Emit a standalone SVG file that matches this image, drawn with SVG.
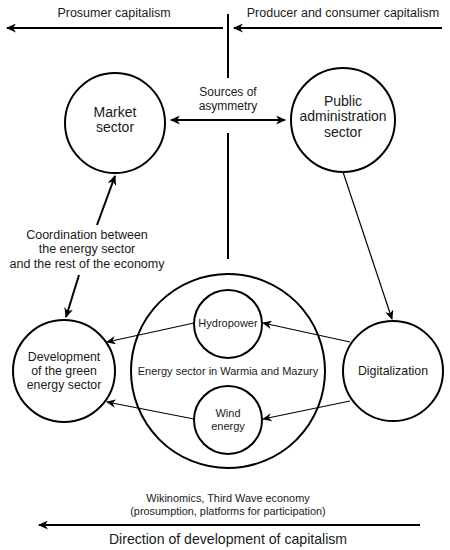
<svg xmlns="http://www.w3.org/2000/svg" width="450" height="550" viewBox="0 0 450 550">
<defs>
<marker id="ah" viewBox="0 0 10 10" refX="9" refY="5" markerWidth="5" markerHeight="4.5" orient="auto-start-reverse" markerUnits="strokeWidth" preserveAspectRatio="none">
<path d="M0,0 L10,5 L0,10 L3,5 Z" fill="#000"/>
</marker>
<marker id="ahs" viewBox="0 0 10 10" refX="9" refY="5" markerWidth="8" markerHeight="7" orient="auto-start-reverse" markerUnits="strokeWidth" preserveAspectRatio="none">
<path d="M0,0 L10,5 L0,10 L3,5 Z" fill="#000"/>
</marker>
</defs>
<style>
text{font-family:"Liberation Sans",Arial,sans-serif;fill:#1a1a1a;text-anchor:middle}
.c{fill:#fff;stroke:#000;stroke-width:2}
.thick{stroke:#000;stroke-width:2;fill:none}
.thin{stroke:#000;stroke-width:1.2;fill:none}
</style>
<rect width="450" height="550" fill="#fff"/>
<g id="connectors">
<line class="thick" x1="223" y1="28" x2="7" y2="28" marker-end="url(#ah)"/>
<line class="thick" x1="442" y1="28" x2="234" y2="28" marker-end="url(#ah)"/>
<line class="thick" x1="228" y1="14" x2="228" y2="78"/>
<line class="thick" x1="228" y1="133" x2="228" y2="259"/>
<line class="thick" x1="171" y1="120" x2="285" y2="120" marker-start="url(#ah)" marker-end="url(#ah)"/>
<line class="thick" x1="97" y1="225" x2="115" y2="176" marker-end="url(#ah)"/>
<line class="thick" x1="79" y1="275" x2="66" y2="317" marker-end="url(#ah)"/>
<line class="thin" x1="343" y1="172" x2="392" y2="319" marker-end="url(#ahs)"/>
<line class="thin" x1="194" y1="323" x2="107" y2="342" marker-end="url(#ahs)"/>
<line class="thin" x1="350" y1="342" x2="263" y2="323" marker-end="url(#ahs)"/>
<line class="thin" x1="194" y1="419" x2="107" y2="402" marker-end="url(#ahs)"/>
<line class="thin" x1="350" y1="401" x2="263" y2="419" marker-end="url(#ahs)"/>
<line class="thick" x1="420" y1="525" x2="39" y2="525" marker-end="url(#ah)"/>
</g>
<g id="labels">
<text x="114" y="17" font-size="12.5">Prosumer capitalism</text>
<text x="343" y="17" font-size="12.5">Producer and consumer capitalism</text>
<text x="228" y="96" font-size="12">Sources of</text>
<text x="228" y="110" font-size="12">asymmetry</text>
<text x="87" y="239" font-size="12.5">Coordination between</text>
<text x="87" y="253" font-size="12.5">the energy sector</text>
<text x="87" y="268" font-size="12.5">and the rest of the economy</text>
<text x="228" y="502" font-size="10.9">Wikinomics, Third Wave economy</text>
<text x="228" y="515" font-size="10.9">(prosumption, platforms for participation)</text>
<text x="228" y="544" font-size="14.1">Direction of development of capitalism</text>
</g>
<g id="market">
<circle class="c" cx="115" cy="123" r="50"/>
<text x="115" y="117" font-size="14">Market</text>
<text x="115" y="132" font-size="14">sector</text>
</g>
<g id="public">
<circle class="c" cx="343" cy="120" r="52"/>
<text x="343" y="106" font-size="14">Public</text>
<text x="343" y="121" font-size="14">administration</text>
<text x="343" y="137" font-size="14">sector</text>
</g>
<g id="energy-sector">
<circle class="c" cx="228" cy="371" r="97" style="fill:none"/>
<text x="228" y="375" font-size="11">Energy sector in Warmia and Mazury</text>
</g>
<g id="hydropower">
<circle class="c" cx="228" cy="324" r="34"/>
<text x="228" y="327" font-size="11">Hydropower</text>
</g>
<g id="wind">
<circle class="c" cx="228" cy="420" r="34"/>
<text x="228" y="417" font-size="11">Wind</text>
<text x="228" y="430" font-size="11">energy</text>
</g>
<g id="development">
<circle class="c" cx="64" cy="371" r="51"/>
<text x="64" y="361" font-size="12.3">Development</text>
<text x="64" y="375" font-size="12.3">of the green</text>
<text x="64" y="389" font-size="12.3">energy sector</text>
</g>
<g id="digitalization">
<circle class="c" cx="393" cy="371" r="50"/>
<text x="393" y="375" font-size="12.4">Digitalization</text>
</g>
</svg>
